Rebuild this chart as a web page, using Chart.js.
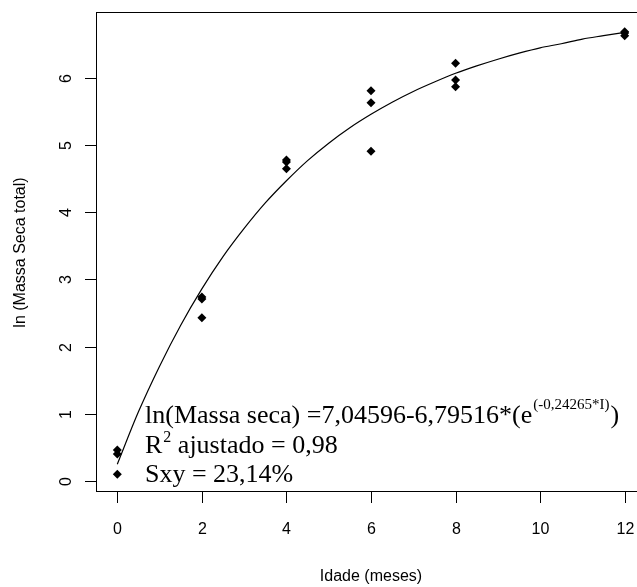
<!DOCTYPE html>
<html>
<head>
<meta charset="utf-8">
<script src="https://cdn.jsdelivr.net/npm/chart.js@4"></script>
<style>
  html, body { margin: 0; padding: 0; background: #fff; overflow: hidden; }
  #wrap { width: 660px; height: 587px; }
</style>
</head>
<body>
<div id="wrap"><canvas id="chart" width="660" height="587"></canvas></div>
<script>
// observed points: age (months) and ln(total dry mass)
const idade = [0, 0, 0, 2, 2, 2, 4, 4, 4, 6, 6, 6, 8, 8, 8, 12, 12, 12];
const lnMassa = [0.46, 0.40, 0.10, 2.74, 2.71, 2.43, 4.78, 4.75, 4.65, 5.81, 5.63, 4.91, 6.22, 5.97, 5.87, 6.69, 6.67, 6.63];

// fitted curve
const curvaX = [0, 0.5, 1, 1.5, 2, 2.5, 3, 3.5, 4, 4.5, 5, 5.5, 6, 6.5, 7, 7.5, 8, 8.5, 9, 9.5, 10, 10.5, 11, 11.5, 12];
const curvaY = [0.25, 1.03, 1.71, 2.32, 2.86, 3.34, 3.76, 4.14, 4.47, 4.77, 5.03, 5.26, 5.46, 5.64, 5.80, 5.94, 6.07, 6.18, 6.28, 6.37, 6.45, 6.51, 6.58, 6.63, 6.68];

const xTicks = [0, 2, 4, 6, 8, 10, 12];
const yTicks = [0, 1, 2, 3, 4, 5, 6];

const pontos = idade.map((x, i) => ({ x: x, y: lnMassa[i] }));
const curva = curvaX.map((x, i) => ({ x: x, y: curvaY[i] }));

// R-style box, ticks, labels and the equation text
const rAxes = {
    id: 'rAxes',
    afterDraw(chart) {
        const ctx = chart.ctx;
        const xs = chart.scales.x, ys = chart.scales.y;
        const a = chart.chartArea;
        ctx.save();
        ctx.strokeStyle = '#000';
        ctx.lineWidth = 1;
        ctx.strokeRect(Math.round(a.left) - 0.5, Math.round(a.top) - 0.5, a.right - a.left, Math.round(a.bottom) - Math.round(a.top));

        ctx.fillStyle = '#000';
        ctx.font = '16px "Liberation Sans", Arial, sans-serif';
        ctx.textAlign = 'center';
        ctx.textBaseline = 'middle';
        // x ticks
        xTicks.forEach(v => {
            const px = Math.round(xs.getPixelForValue(v)) + 0.5;
            ctx.beginPath();
            ctx.moveTo(px, a.bottom);
            ctx.lineTo(px, a.bottom + 11);
            ctx.stroke();
            ctx.fillText(String(v), px, 530);
        });
        // y ticks (rotated labels)
        yTicks.forEach(v => {
            const py = Math.round(ys.getPixelForValue(v)) + 0.5;
            ctx.beginPath();
            ctx.moveTo(a.left - 12, py);
            ctx.lineTo(a.left, py);
            ctx.stroke();
            ctx.save();
            ctx.translate(67, py);
            ctx.rotate(-Math.PI / 2);
            ctx.fillText(String(v), 0, 0);
            ctx.restore();
        });
        // axis titles
        ctx.fillText('Idade (meses)', (a.left + a.right) / 2, 577);
        ctx.save();
        ctx.translate(21, (a.top + a.bottom) / 2);
        ctx.rotate(-Math.PI / 2);
        ctx.fillText('ln (Massa Seca total)', 0, 0);
        ctx.restore();

        // equation text
        const serif = '"Liberation Serif", "Times New Roman", serif';
        const x0 = 145;
        ctx.textAlign = 'left';
        ctx.textBaseline = 'alphabetic';
        ctx.font = '26px ' + serif;
        let t = 'ln(Massa seca) =7,04596-6,79516*(e';
        ctx.fillText(t, x0, 423);
        let w = ctx.measureText(t).width;
        ctx.font = '15px ' + serif;
        const sup = '(-0,24265*I)';
        ctx.fillText(sup, x0 + w + 1, 409);
        const w2 = ctx.measureText(sup).width;
        ctx.font = '26px ' + serif;
        ctx.fillText(')', x0 + w + w2 + 2, 423);

        ctx.fillText('R', x0, 453);
        w = ctx.measureText('R').width;
        ctx.font = '16px ' + serif;
        ctx.fillText('2', x0 + w + 1, 442);
        const w3 = ctx.measureText('2').width;
        ctx.font = '26px ' + serif;
        ctx.fillText(' ajustado = 0,98', x0 + w + w3 + 1, 453);

        ctx.fillText('Sxy = 23,14%', x0, 482);
        ctx.restore();
    }
};

const ctx = document.getElementById('chart').getContext('2d');
const chart = new Chart(ctx, {
    type: 'scatter',
    data: {
        datasets: [
            {
                label: 'Observado',
                data: pontos,
                pointStyle: 'rectRot',
                pointRadius: 4.5,
                backgroundColor: '#000',
                borderColor: '#000',
                borderWidth: 0
            },
            {
                label: 'Ajuste',
                data: curva,
                showLine: true,
                pointRadius: 0,
                borderColor: '#000',
                borderWidth: 1.2,
                cubicInterpolationMode: 'monotone',
                fill: false
            }
        ]
    },
    options: {
        responsive: false,
        animation: false,
        layout: { padding: { left: 97, top: 13, right: 15, bottom: 95 } },
        plugins: {
            legend: { display: false },
            tooltip: { enabled: false }
        },
        scales: {
            x: { type: 'linear', min: -0.48, max: 12.48, display: false },
            y: { type: 'linear', min: -0.164, max: 6.968, display: false }
        }
    },
    plugins: [rAxes]
});
</script>
</body>
</html>
